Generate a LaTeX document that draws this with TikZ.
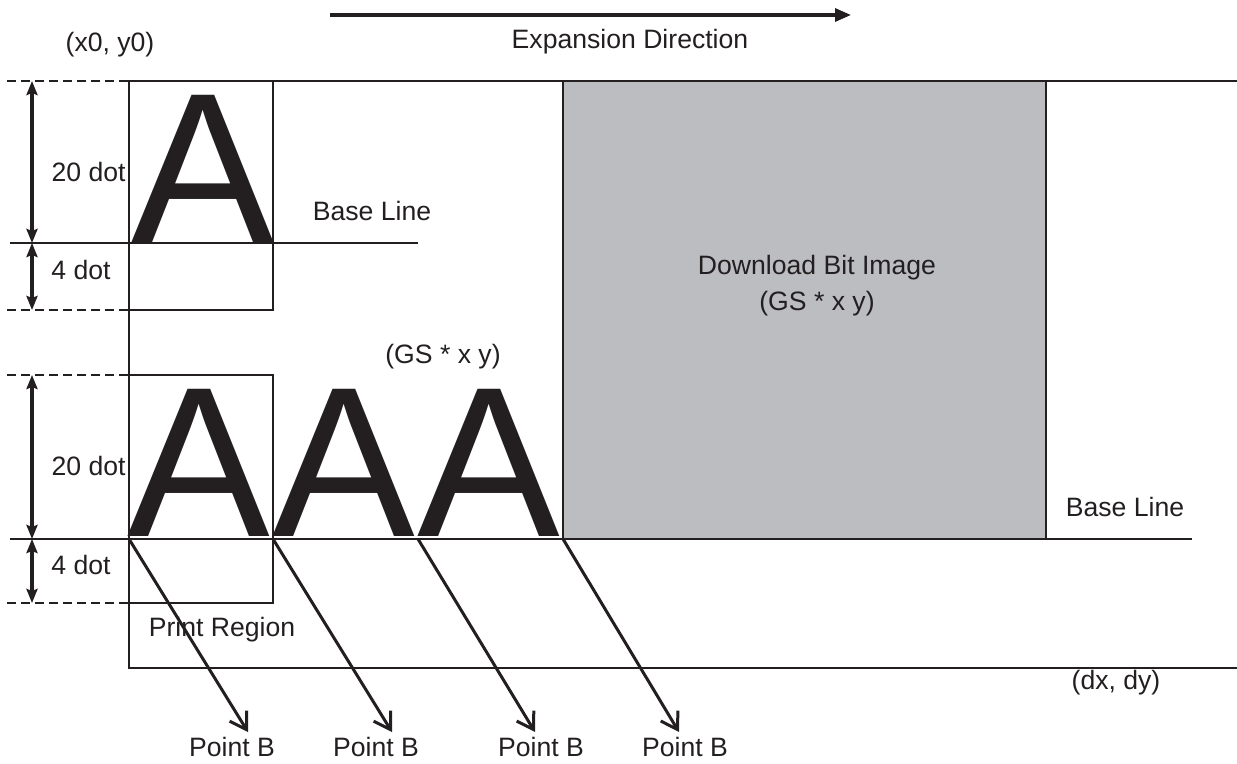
\documentclass[tikz,border=0pt]{standalone}
\usepackage{fontspec}
\setmainfont{Liberation Sans}
\usetikzlibrary{arrows.meta}
\definecolor{ink}{HTML}{231F20}
\definecolor{greyfill}{HTML}{BCBDC1}
\begin{document}
\begin{tikzpicture}[x=0.5pt,y=-0.5pt,
  thinline/.style={line width=0.8pt, draw=ink},
  lbl/.style={font=\fontsize{13.3}{16}\selectfont, text=ink, inner sep=0, align=center},
  dimarrow/.style={line width=1.7pt, draw=ink, {Stealth[length=7pt,width=5.5pt,inset=1pt]}-{Stealth[length=7pt,width=5.5pt,inset=1pt]}},
  dashline/.style={line width=1.4pt, draw=ink, dash pattern=on 4.5pt off 2.5pt},
  bigA/.style={font=\fontsize{107}{107}\selectfont, text=ink, inner sep=0, anchor=base west},
  pointer/.style={line width=1.5pt, draw=ink, -{Straight Barb[length=8pt,width=10pt]}},
  expand/.style={line width=1.6pt, draw=ink, -{Triangle[length=8pt,width=6.5pt]}}]
\useasboundingbox (0,0) rectangle (1237,764);

% coordinates
\coordinate (tl) at (129,81);
\coordinate (tr) at (1237,81);
\coordinate (bl) at (129,668);
\coordinate (br) at (1237,668);
\coordinate (b1tl) at (129,81);
\coordinate (b1br) at (273,310);
\coordinate (b2tl) at (129,375);
\coordinate (b2br) at (273,603);
\coordinate (bl1a) at (10,243);
\coordinate (bl1b) at (418,243);
\coordinate (bl2a) at (10,539);
\coordinate (bl2b) at (1192,539);

% grey download bit image
\fill[greyfill] (563,81) rectangle (1046,539);
\draw[thinline] (563,81) -- (563,539);
\draw[thinline] (1046,81) -- (1046,539);

% print region frame
\draw[thinline] (tr) -- (tl) -- (bl) -- (br);
\draw[thinline] (b1tl) rectangle (b1br);
\draw[thinline] (b2tl) rectangle (b2br);
\draw[thinline] (bl1a) -- (bl1b);
\draw[thinline] (bl2a) -- (bl2b);

% dashed extension lines
\coordinate (d1) at (7,81);
\coordinate (d2) at (7,310);
\coordinate (d3) at (7,375);
\coordinate (d4) at (7,603);
\draw[dashline] (d1) -- (129,81);
\draw[dashline] (d2) -- (129,310);
\draw[dashline] (d3) -- (129,375);
\draw[dashline] (d4) -- (129,603);

% dimension arrows
\coordinate (m1) at (32,81);
\coordinate (m2) at (32,243);
\coordinate (m3) at (32,310);
\coordinate (m4) at (32,375);
\coordinate (m5) at (32,539);
\coordinate (m6) at (32,603);
\draw[dimarrow] (m1) -- (m2);
\draw[dimarrow] (m2) -- (m3);
\draw[dimarrow] (m4) -- (m5);
\draw[dimarrow] (m5) -- (m6);

% big letters
\node[bigA] (A0) at (131,243) {A};
\node[bigA] (A1) at (127,537) {A};
\node[bigA] (A2) at (272,537) {A};
\node[bigA] (A3) at (417,537) {A};

% expansion direction
\coordinate (e1) at (330,15);
\coordinate (e2) at (851,15);
\draw[expand] (e1) -- (e2);
\node[lbl] (explbl) at (630,42) {Expansion Direction};

% labels
\node[lbl] (xy0) at (110,45) {(x0, y0)};
\node[lbl, anchor=east] (d20a) at (126,172) {20 dot};
\node[lbl] (d4a) at (81,270) {4 dot};
\node[lbl, anchor=east] (d20b) at (126,466) {20 dot};
\node[lbl] (d4b) at (81,565) {4 dot};
\node[lbl] (base1) at (372,211) {Base Line};
\node[lbl] (base2) at (1125,507) {Base Line};
\node[lbl] (dbi) at (817,286) {Download Bit Image\\[2pt](GS * x y)};
\node[lbl] (gs) at (443,357) {(GS * x y)};
\node[lbl] (preg) at (222,630) {Print Region};
\node[lbl] (dxdy) at (1116,683) {(dx, dy)};

% Point B labels and pointers
\node[lbl] (pb1) at (232,747) {Point B};
\node[lbl] (pb2) at (376,747) {Point B};
\node[lbl] (pb3) at (541,747) {Point B};
\node[lbl] (pb4) at (685,747) {Point B};
\coordinate (s1) at (129,539);
\coordinate (s2) at (273,539);
\coordinate (s3) at (418,539);
\coordinate (s4) at (563,539);
\coordinate (t1) at (248,732);
\coordinate (t2) at (392,732);
\coordinate (t3) at (535,732);
\coordinate (t4) at (679,732);
\draw[pointer] (s1) -- (t1);
\draw[pointer] (s2) -- (t2);
\draw[pointer] (s3) -- (t3);
\draw[pointer] (s4) -- (t4);
\end{tikzpicture}
\end{document}
